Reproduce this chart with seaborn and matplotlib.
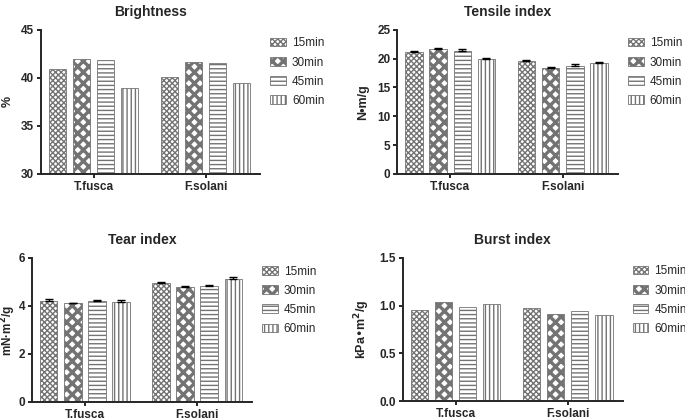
import pandas as pd
import numpy as np
import matplotlib
matplotlib.use("Agg")
import matplotlib.pyplot as plt
from matplotlib.patches import Patch
from matplotlib.ticker import FormatStrFormatter
import seaborn as sns

# ── Data ──────────────────────────────────────────────────────────
GROUPS = ["T.fusca", "F.solani"]
TIMES = ["15min", "30min", "45min", "60min"]

brightness_tf = [40.9, 42.0, 41.9, 38.9]
brightness_fs = [40.1, 41.6, 41.5, 39.5]

tensile_tf = [21.1, 21.6, 21.3, 19.9]
tensile_fs = [19.6, 18.4, 18.8, 19.3]
tensile_err_tf = [0.3, 0.3, 0.3, 0.2]
tensile_err_fs = [0.2, 0.2, 0.3, 0.2]

tear_tf = [4.22, 4.10, 4.20, 4.18]
tear_fs = [4.95, 4.80, 4.83, 5.12]
tear_err_tf = [0.05, 0.04, 0.06, 0.05]
tear_err_fs = [0.04, 0.04, 0.05, 0.07]

burst_tf = [0.95, 1.04, 0.99, 1.02]
burst_fs = [0.98, 0.91, 0.94, 0.90]

# ── Style ─────────────────────────────────────────────────────────
sns.set_style("ticks")
plt.rcParams["font.family"] = ["Liberation Sans", "DejaVu Sans"]
plt.rcParams["hatch.color"] = "black"

HATCHES = ["xxxxxx", "xxx", "----", "||||"]
HATCH_LW = [1.0, 2.4, 1.0, 1.0]


def set_hatch_lw(patch, lw):
    if hasattr(patch, "set_hatch_linewidth"):
        patch.set_hatch_linewidth(lw)
    patch._hatch_linewidth = lw


def make_df(tf, fs):
    rows = []
    for g, vals in zip(GROUPS, [tf, fs]):
        for t, v in zip(TIMES, vals):
            rows.append({"group": g, "time": t, "value": v})
    return pd.DataFrame(rows)


def draw_panel(ax, tf, fs, title, ylabel, ylim, yticks, label_x,
               fmt=None, err=None, ylabel_size=9):
    df = make_df(tf, fs)
    sns.barplot(data=df, x="group", y="value", hue="time", order=GROUPS,
                hue_order=TIMES, width=0.86, gap=0.28, errorbar=None,
                ax=ax, legend=False)
    bar_conts = list(ax.containers)
    for i, cont in enumerate(bar_conts):
        for bar in cont:
            bar.set_facecolor("white")
            bar.set_edgecolor("0.45")
            bar.set_linewidth(0.6)
            bar.set_hatch(HATCHES[i])
            set_hatch_lw(bar, HATCH_LW[i])
        if err is not None:
            xs = [b.get_x() + b.get_width() / 2 for b in cont]
            ys = [b.get_height() for b in cont]
            e = [err[0][i], err[1][i]]
            ax.errorbar(xs, ys, yerr=[np.zeros(2), e], fmt="none",
                        ecolor="black", elinewidth=1, capsize=3, capthick=1)
    ax.set_ylim(*ylim)
    ax.set_yticks(yticks)
    if fmt:
        ax.yaxis.set_major_formatter(FormatStrFormatter(fmt))
    ax.set_xlim(-0.47, 1.49)
    ax.set_xlabel("")
    ax.set_ylabel(ylabel, fontsize=ylabel_size, fontweight="bold")
    ax.yaxis.set_label_coords(label_x, 0.5)
    ax.set_title(title, fontsize=10, fontweight="bold", pad=10)
    sns.despine(ax=ax)
    for s in ["left", "bottom"]:
        ax.spines[s].set_linewidth(1.4)
    ax.tick_params(width=1.4, length=3, pad=2, labelsize=8.5)
    for lab in ax.get_xticklabels() + ax.get_yticklabels():
        lab.set_fontweight("bold")

    handles = []
    for i, t in enumerate(TIMES):
        p = Patch(facecolor="white", edgecolor="0.45", linewidth=0.6,
                  hatch=HATCHES[i], label=t)
        set_hatch_lw(p, HATCH_LW[i])
        handles.append(p)
    leg = ax.legend(handles=handles, loc="upper left",
                    bbox_to_anchor=(1.045, 0.947), frameon=False,
                    fontsize=8.5, handlelength=1.35, handleheight=0.7,
                    labelspacing=0.6, handletextpad=0.5, borderaxespad=0,
                    borderpad=0)
    for h, lw in zip(leg.legend_handles, HATCH_LW):
        set_hatch_lw(h, lw)


fig = plt.figure(figsize=(6.85, 4.2), dpi=100)
ax1 = fig.add_axes([0.060, 0.586, 0.320, 0.343])
ax2 = fig.add_axes([0.580, 0.586, 0.322, 0.343])
ax3 = fig.add_axes([0.047, 0.043, 0.321, 0.343])
ax4 = fig.add_axes([0.588, 0.045, 0.321, 0.341])

draw_panel(ax1, brightness_tf, brightness_fs, "Brightness", "%",
           (30, 45), [30, 35, 40, 45], -0.125)
draw_panel(ax2, tensile_tf, tensile_fs, "Tensile index", "N•m/g",
           (0, 25), [0, 5, 10, 15, 20, 25], -0.13,
           err=(tensile_err_tf, tensile_err_fs))
draw_panel(ax3, tear_tf, tear_fs, "Tear index", r"mN·m$^\mathbf{2}$/g",
           (0, 6), [0, 2, 4, 6], -0.065, err=(tear_err_tf, tear_err_fs),
           ylabel_size=8.5)
draw_panel(ax4, burst_tf, burst_fs, "Burst index", r"kPa•m$^\mathbf{2}$/g",
           (0, 1.5), [0.0, 0.5, 1.0, 1.5], -0.14, fmt="%.1f")

fig.savefig("out.png", dpi=100)
